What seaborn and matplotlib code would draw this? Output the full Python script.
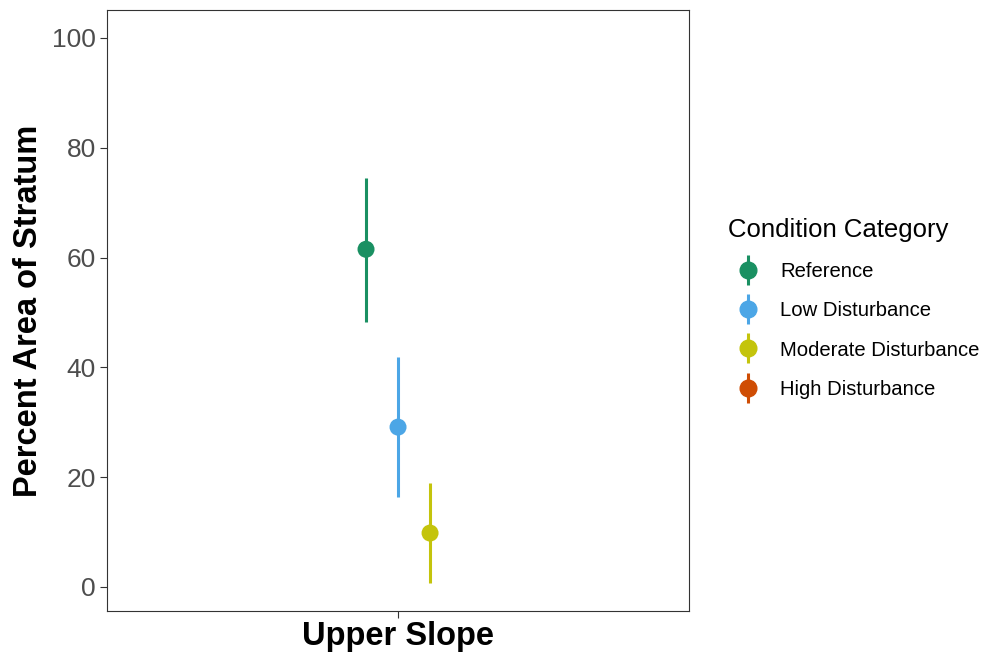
import numpy as np
import pandas as pd
import seaborn as sns
import matplotlib.pyplot as plt
from matplotlib.lines import Line2D

# values
strata = ["Upper Slope"]
conditions = ["Reference", "Low Disturbance", "Moderate Disturbance", "High Disturbance"]
present = ["Reference", "Low Disturbance", "Moderate Disturbance"]
means = [61.5, 29.1, 9.8]
lower = [48.3, 16.3, 0.7]
upper = [74.4, 41.9, 18.9]
colors = ["#1a9062", "#4ca6e6", "#c4c40c", "#cf4d04"]

df = pd.DataFrame({
    "stratum": strata * len(present),
    "condition": present,
    "mean": means,
    "lo": lower,
    "hi": upper,
})

# dodge the groups around the category position
dodge_step = 0.066
df["x"] = [strata.index(s) for s in df["stratum"]] + (np.arange(len(df)) - (len(df) - 1) / 2) * dodge_step

sns.set_theme(style="ticks")
plt.rcParams["font.family"] = ["Liberation Sans", "DejaVu Sans"]

fig = plt.figure(figsize=(9.85, 6.56), dpi=100)
ax = fig.add_axes([0.1086, 0.0686, 0.591, 0.9162])

pal = dict(zip(conditions, colors))
for _, r in df.iterrows():
    ax.vlines(r["x"], r["lo"], r["hi"], color=pal[r["condition"]], lw=2.2, zorder=2)
sns.scatterplot(data=df, x="x", y="mean", hue="condition", hue_order=conditions,
                palette=pal, s=150, edgecolor="none", legend=False, ax=ax, zorder=3)

ax.set_xlim(-0.6, 0.6)
ax.set_ylim(-4.4, 105.1)
ax.set_xticks(range(len(strata)))
ax.set_xticklabels(strata)
ax.set_yticks([0, 20, 40, 60, 80, 100])
ax.tick_params(axis="both", colors="#333333", length=5, width=0.8, labelcolor="#4d4d4d")
ax.tick_params(axis="y", labelsize=19, pad=3)
ax.tick_params(axis="x", labelsize=23.5, labelcolor="black", pad=2)
for lab in ax.get_xticklabels():
    lab.set_fontweight("bold")
ax.set_xlabel("")
ax.set_ylabel("Percent Area of Stratum", fontsize=23.5, fontweight="bold", color="black", labelpad=6)
for sp in ax.spines.values():
    sp.set_visible(True)
    sp.set_color("#333333")
    sp.set_linewidth(0.8)

handles = [(Line2D([], [], color=c, marker="|", markersize=22, markeredgewidth=2.2, linestyle="none"),
            Line2D([], [], color=c, marker="o", markersize=12, linestyle="none"))
           for c in colors]
leg = fig.legend(handles, conditions, title="Condition Category", loc="upper left",
                 bbox_to_anchor=(0.721, 0.696), frameon=False, fontsize=14.6,
                 title_fontsize=18.5, labelspacing=1.0, handletextpad=0.6, handlelength=1.95,
                 labelcolor="black")
leg.get_title().set_color("black")
leg._legend_box.align = "left"

fig.savefig("out.png", dpi=100)
